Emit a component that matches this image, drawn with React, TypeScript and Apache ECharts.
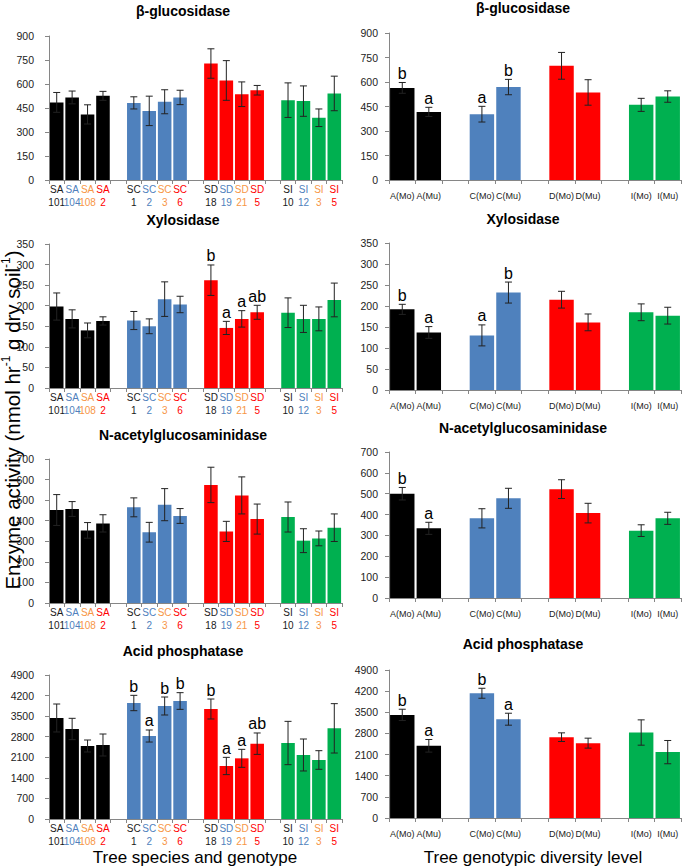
import React, { useEffect, useRef } from 'react';
import * as echarts from 'echarts';

const FONT = "'Liberation Sans', Arial, Helvetica, sans-serif";

// ---------- categories ----------
const speciesCodes = ['SA', 'SC', 'SD', 'SI'];
const genotypeCodes = [
  ['101', '104', '108', '2'],
  ['1', '2', '3', '6'],
  ['18', '19', '21', '5'],
  ['10', '12', '3', '5'],
];
const diversityCodes = [
  ['A(Mo)', 'A(Mu)'],
  ['C(Mo)', 'C(Mu)'],
  ['D(Mo)', 'D(Mu)'],
  ['I(Mo)', 'I(Mu)'],
];
const groupColors = ['#000000', '#4f81bd', '#ff0000', '#00b050'];
const labelColors = ['#1a1a1a', '#4f81bd', '#f79646', '#ff0000'];

// ---------- β-glucosidase ----------
const bgSpecies = [485, 516, 410, 526, 482, 432, 489, 516, 728, 622, 536, 561, 499, 493, 389, 541];
const bgSpeciesErr = [62, 40, 60, 28, 38, 92, 75, 45, 92, 124, 77, 30, 108, 95, 55, 108];
const bgSpeciesLetters = ['', '', '', '', '', '', '', '', '', '', '', '', '', '', '', ''];
const bgDiversity = [564, 417, 403, 569, 699, 536, 460, 511];
const bgDiversityErr = [33, 28, 48, 47, 82, 78, 40, 35];
const bgDiversityLetters = ['b', 'a', 'a', 'b', '', '', '', ''];

// ---------- Xylosidase ----------
const xySpecies = [198, 168, 140, 163, 164, 150, 216, 203, 262, 146, 168, 184, 183, 168, 168, 214];
const xySpeciesErr = [33, 22, 18, 10, 22, 18, 42, 20, 37, 16, 20, 17, 36, 33, 29, 41];
const xySpeciesLetters = ['', '', '', '', '', '', '', '', 'b', 'a', 'a', 'ab', '', '', '', ''];
const xyDiversity = [192, 137, 130, 232, 215, 161, 185, 177];
const xyDiversityErr = [12, 14, 25, 25, 20, 20, 20, 20];
const xyDiversityLetters = ['b', 'a', 'a', 'b', '', '', '', ''];

// ---------- N-acetylglucosaminidase ----------
const nagSpecies = [452, 457, 353, 387, 465, 344, 478, 423, 574, 348, 523, 408, 418, 303, 314, 366];
const nagSpeciesErr = [75, 36, 38, 42, 46, 48, 78, 36, 86, 49, 90, 73, 73, 58, 36, 67];
const nagSpeciesLetters = ['', '', '', '', '', '', '', '', '', '', '', '', '', '', '', ''];
const nagDiversity = [500, 334, 382, 478, 522, 407, 323, 382];
const nagDiversityErr = [30, 29, 46, 48, 45, 47, 28, 29];
const nagDiversityLetters = ['b', 'a', '', '', '', '', '', ''];

// ---------- Acid phosphatase ----------
const apSpecies = [3437, 3063, 2484, 2518, 3947, 2824, 3845, 4015, 3743, 1804, 2064, 2563, 2586, 2178, 2008, 3085];
const apSpeciesErr = [476, 363, 204, 374, 261, 205, 306, 284, 340, 294, 306, 364, 737, 544, 317, 840];
const apSpeciesLetters = ['', '', '', '', 'b', 'a', 'b', 'b', 'b', 'a', 'a', 'ab', '', '', '', ''];
const apDiversity = [3414, 2390, 4130, 3271, 2676, 2478, 2830, 2181];
const apDiversityErr = [187, 209, 165, 198, 143, 165, 419, 385];
const apDiversityLetters = ['b', 'a', 'b', 'a', '', '', '', ''];

// ---------- axis scales ----------
const enzymeTitles = ['β-glucosidase', 'Xylosidase', 'N-acetylglucosaminidase', 'Acid phosphatase'];
const axisMax = [900, 350, 700, 4900];
const axisStep = [150, 50, 100, 700];

// layout (positions / sizes)
const leftGrids = [
  { top: 36, height: 144 },
  { top: 244, height: 144 },
  { top: 459, height: 144 },
  { top: 675, height: 144 },
];
const rightGrids = [
  { top: 33, height: 147 },
  { top: 243, height: 147 },
  { top: 452, height: 146 },
  { top: 670, height: 148 },
];
const leftTitleY = [11, 220, 435, 651];
const rightTitleY = [8, 219, 428, 644];

type Panel = {
  side: 'L' | 'R';
  row: number;
  values: number[];
  errors: number[];
  letters: string[];
};

const panels: Panel[] = [
  { side: 'L', row: 0, values: bgSpecies, errors: bgSpeciesErr, letters: bgSpeciesLetters },
  { side: 'R', row: 0, values: bgDiversity, errors: bgDiversityErr, letters: bgDiversityLetters },
  { side: 'L', row: 1, values: xySpecies, errors: xySpeciesErr, letters: xySpeciesLetters },
  { side: 'R', row: 1, values: xyDiversity, errors: xyDiversityErr, letters: xyDiversityLetters },
  { side: 'L', row: 2, values: nagSpecies, errors: nagSpeciesErr, letters: nagSpeciesLetters },
  { side: 'R', row: 2, values: nagDiversity, errors: nagDiversityErr, letters: nagDiversityLetters },
  { side: 'L', row: 3, values: apSpecies, errors: apSpeciesErr, letters: apSpeciesLetters },
  { side: 'R', row: 3, values: apDiversity, errors: apDiversityErr, letters: apDiversityLetters },
];

// Build categories with a blank slot between groups
function buildLeftCats(): string[] {
  const out: string[] = [];
  speciesCodes.forEach((c, g) => {
    genotypeCodes[g].forEach((n, k) => out.push(`${c}|${n}|${k}`));
    if (g < speciesCodes.length - 1) out.push(`gap${g}`);
  });
  return out;
}
function buildRightCats(): string[] {
  const out: string[] = [];
  diversityCodes.forEach((grp, g) => {
    grp.forEach((n) => out.push(n));
    if (g < diversityCodes.length - 1) out.push(`gap${g}`);
  });
  return out;
}
const leftCats = buildLeftCats();
const rightCats = buildRightCats();

// map value index -> category index (skipping gaps) and group
function slotInfo(side: 'L' | 'R') {
  const per = side === 'L' ? 4 : 2;
  const n = per * 4;
  const res: { cat: number; group: number }[] = [];
  for (let i = 0; i < n; i++) {
    const g = Math.floor(i / per);
    res.push({ cat: i + g, group: g });
  }
  return res;
}

export default function App() {
  const ref = useRef<HTMLDivElement>(null);

  useEffect(() => {
    if (!ref.current) return;
    const chart = echarts.init(ref.current, null, { renderer: 'svg' });

    const grid: any[] = [];
    const xAxis: any[] = [];
    const yAxis: any[] = [];
    const series: any[] = [];
    const graphic: any[] = [];

    const axisColor = '#868686';

    panels.forEach((p, i) => {
      const isL = p.side === 'L';
      const geo = isL ? leftGrids[p.row] : rightGrids[p.row];
      grid.push({
        left: isL ? 49 : 389,
        width: isL ? 293 : 292,
        top: geo.top,
        height: geo.height,
      });

      const cats = isL ? leftCats : rightCats;
      const rich: any = {};
      labelColors.forEach((c, k) => {
        rich['c' + k] = { color: c, fontSize: 10, lineHeight: 13, fontFamily: FONT };
      });

      xAxis.push({
        type: 'category',
        gridIndex: i,
        data: cats,
        axisLine: { show: true, lineStyle: { color: axisColor, width: 1 } },
        axisTick: { show: true, interval: 0, length: 4, lineStyle: { color: axisColor } },
        splitLine: { show: false },
        axisLabel: {
          interval: 0,
          margin: isL ? 3 : 11,
          fontSize: isL ? 10 : 9,
          color: '#222',
          fontFamily: FONT,
          hideOverlap: false,
          rich: isL ? rich : undefined,
          formatter: (val: string) => {
            if (val.startsWith('gap')) return '';
            if (isL) {
              const [c, n, k] = val.split('|');
              return `{c${k}|${c}}\n{c${k}|${n}}`;
            }
            return val;
          },
        },
      });

      yAxis.push({
        type: 'value',
        gridIndex: i,
        min: 0,
        max: axisMax[p.row],
        interval: axisStep[p.row],
        axisLine: { show: true, lineStyle: { color: axisColor, width: 1 } },
        axisTick: { show: true, length: 4, lineStyle: { color: axisColor } },
        splitLine: { show: false },
        axisLabel: {
          fontSize: 10.5,
          color: '#222',
          fontFamily: FONT,
          margin: isL ? 15 : 11,
          formatter: (v: number) => String(v),
        },
      });

      const slots = slotInfo(p.side);
      const barData: any[] = cats.map(() => '-');
      const errData: any[] = [];
      p.values.forEach((v, k) => {
        const s = slots[k];
        barData[s.cat] = { value: v, itemStyle: { color: groupColors[s.group] } };
        errData.push([s.cat, v, p.errors[k]]);
      });
      const letters = p.letters;

      series.push({
        type: 'bar',
        xAxisIndex: i,
        yAxisIndex: i,
        data: barData,
        barCategoryGap: isL ? '12%' : '8%',
        silent: true,
      });

      series.push({
        type: 'custom',
        xAxisIndex: i,
        yAxisIndex: i,
        data: errData,
        encode: { x: 0, y: 1 },
        silent: true,
        z: 5,
        renderItem: (params: any, api: any) => {
          const c = api.value(0);
          const v = api.value(1);
          const e = api.value(2);
          const top = api.coord([c, v + e]);
          const bot = api.coord([c, v - e]);
          const cap = 3.5;
          const st = { stroke: '#222', lineWidth: 1 };
          const children: any[] = [
            { type: 'line', shape: { x1: top[0], y1: top[1], x2: bot[0], y2: bot[1] }, style: st },
            { type: 'line', shape: { x1: top[0] - cap, y1: top[1], x2: top[0] + cap, y2: top[1] }, style: st },
            { type: 'line', shape: { x1: bot[0] - cap, y1: bot[1], x2: bot[0] + cap, y2: bot[1] }, style: st },
          ];
          const letter = letters[params.dataIndex];
          if (letter) {
            children.push({
              type: 'text',
              style: {
                text: letter,
                x: top[0],
                y: top[1] - 1,
                align: 'center',
                verticalAlign: 'bottom',
                textAlign: 'center',
                textVerticalAlign: 'bottom',
                fontSize: 16,
                fontFamily: FONT,
                fill: '#000',
              },
            });
          }
          return { type: 'group', children };
        },
      });

      // panel title
      graphic.push({
        type: 'text',
        x: isL ? 183 : 523,
        y: isL ? leftTitleY[p.row] : rightTitleY[p.row],
        style: {
          text: enzymeTitles[p.row],
          align: 'center',
          verticalAlign: 'middle',
          textAlign: 'center',
          textVerticalAlign: 'middle',
          fontSize: 14,
          fontWeight: 'bold',
          fontFamily: FONT,
          fill: '#000',
        },
      });
    });

    // axis names
    graphic.push({
      type: 'text',
      x: 195,
      y: 857,
      style: {
        text: 'Tree species and genotype',
        align: 'center',
        verticalAlign: 'middle',
        textAlign: 'center',
        textVerticalAlign: 'middle',
        fontSize: 17,
        fontFamily: FONT,
        fill: '#000',
      },
    });
    graphic.push({
      type: 'text',
      x: 533,
      y: 857,
      style: {
        text: 'Tree genotypic diversity level',
        align: 'center',
        verticalAlign: 'middle',
        textAlign: 'center',
        textVerticalAlign: 'middle',
        fontSize: 17,
        fontFamily: FONT,
        fill: '#000',
      },
    });
    graphic.push({
      type: 'text',
      x: 12,
      y: 420,
      rotation: Math.PI / 2,
      style: {
        text: '{a|Enzyme activity (nmol hr}{s|-1}{a| g dry soil}{s|-1}{a|)}',
        align: 'center',
        verticalAlign: 'middle',
        textAlign: 'center',
        textVerticalAlign: 'middle',
        fill: '#000',
        rich: {
          a: { fontSize: 20.5, fontFamily: FONT, lineHeight: 24, fill: '#000', color: '#000' },
          s: { fontSize: 12, fontFamily: FONT, lineHeight: 24, verticalAlign: 'top', fill: '#000', color: '#000' },
        },
      },
    });

    chart.setOption({
      animation: false,
      backgroundColor: '#ffffff',
      textStyle: { fontFamily: FONT },
      grid,
      xAxis,
      yAxis,
      series,
      graphic,
    });

    return () => {
      chart.dispose();
    };
  }, []);

  return (
    <div
      ref={ref}
      style={{ position: 'fixed', left: 0, top: 0, width: 685, height: 868, background: '#fff' }}
    />
  );
}
